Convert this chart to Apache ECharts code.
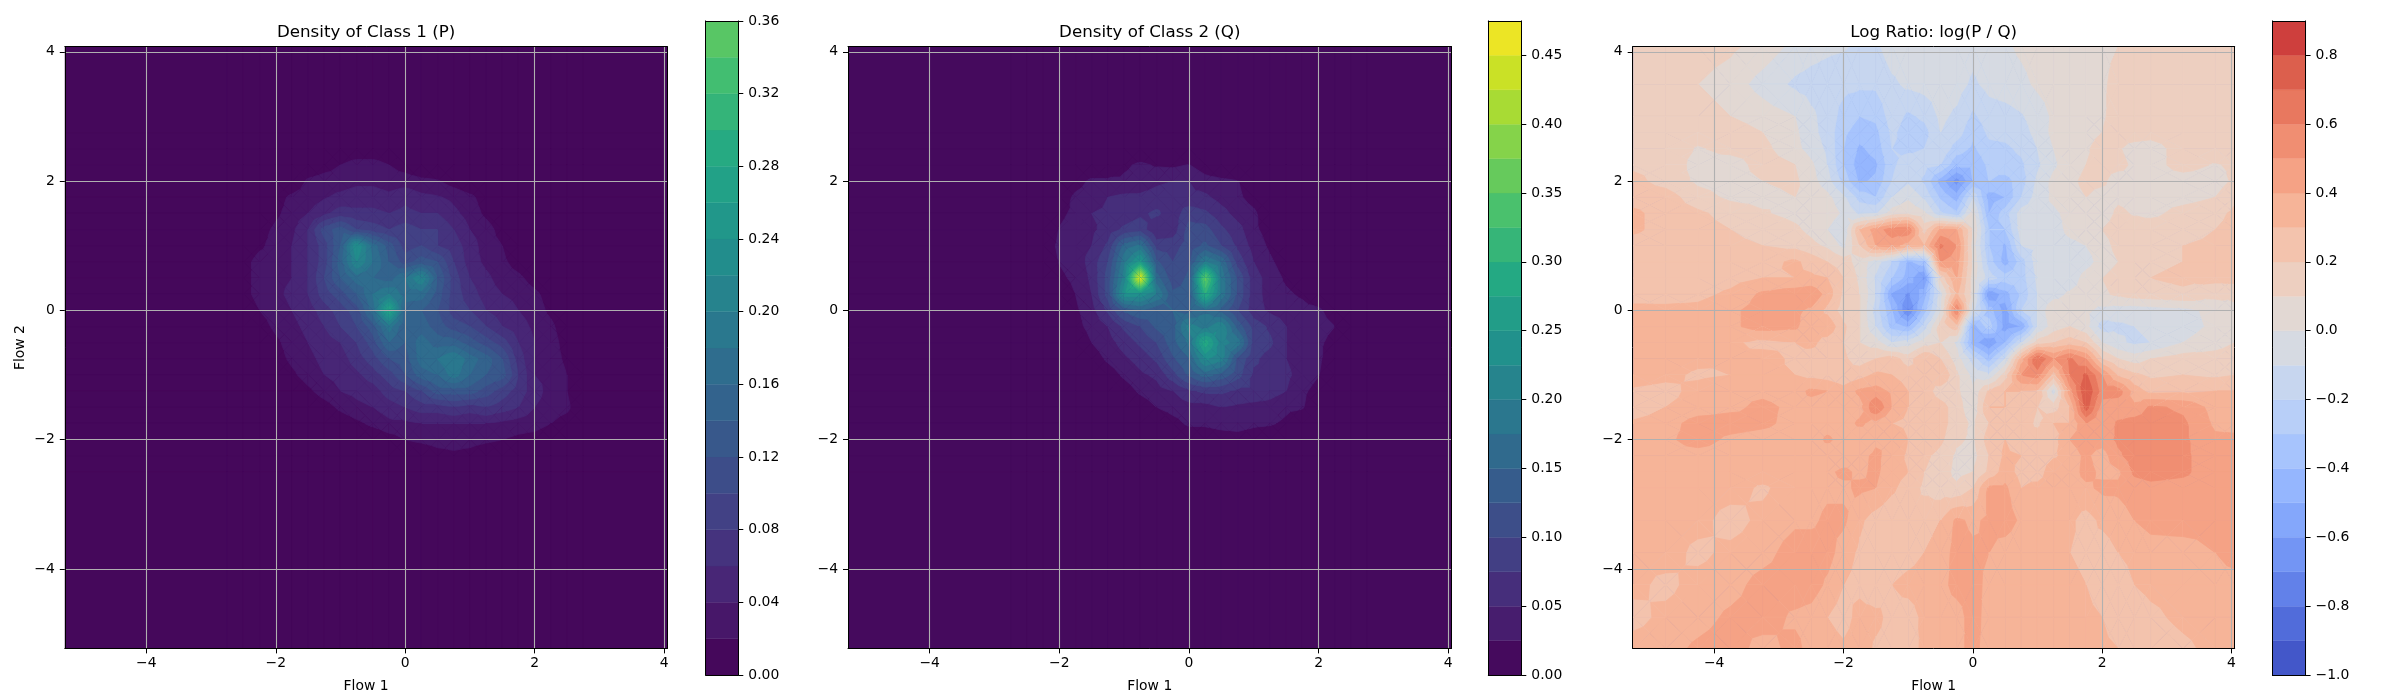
<!DOCTYPE html>
<html><head><meta charset="utf-8">
<style>html,body{margin:0;padding:0;background:#fff}#c{width:2400px;height:700px}</style>
<script src="https://cdn.jsdelivr.net/npm/echarts@6/dist/echarts.min.js"></script>
</head><body><div id="c"></div>
<script>
// ---- tick labels / levels
const axisTicks=[-4,-2,0,2,4];
const levelsP=[0,.02,.04,.06,.08,.10,.12,.14,.16,.18,.20,.22,.24,.26,.28,.30,.32,.34,.36];
const levelsQ=[0,.025,.05,.075,.10,.125,.15,.175,.20,.225,.25,.275,.30,.325,.35,.375,.40,.425,.45,.475];
const levelsR=[-1,-.9,-.8,-.7,-.6,-.5,-.4,-.3,-.2,-.1,0,.1,.2,.3,.4,.5,.6,.7,.8,.9];
const ticksP=[0,.04,.08,.12,.16,.20,.24,.28,.32,.36];
const ticksQ=[0,.05,.10,.15,.20,.25,.30,.35,.40,.45];
const ticksR=[-1,-.8,-.6,-.4,-.2,0,.2,.4,.6,.8];
// ---- density grid nodes (values in hundredths), rows top to bottom
const densX=[-5.25,-2.75,-2.5,-2.25,-2,-1.75,-1.5,-1.25,-1,-.75,-.5,-.25,0,.25,.5,.75,1,1.25,1.5,1.75,2,2.25,2.5,2.75,4.05];
const densY=[4.08,2.75,2.5,2.25,2,1.75,1.5,1.25,1,.75,.5,.25,0,-.25,-.5,-.75,-1,-1.25,-1.5,-1.75,-2,-2.25,-2.5,-5.23];
const densP=[
[0,0,0,0,0,0,0,0,0,0,0,0,0,0,0,0,0,0,0,0,0,0,0],
[0,0,0,0,0,0,0,0,0,0,0,0,0,0,0,0,0,0,0,0,0,0,0],
[0,0,0,0,0,0,1,2,3,3,2,1,0,0,0,0,0,0,0,0,0,0,0],
[0,0,0,0,0,2.4,3,3,3.5,3.5,3,3,2.5,2.2,1,0,0,0,0,0,0,0,0],
[0,0,0,1,2.5,3,3.8,4.5,5,5,4.5,5.5,4.5,4.2,3.5,2.5,1,0,0,0,0,0,0],
[0,0,0,1.5,3,4,5.5,7,6.5,6.5,6,6.5,6,6,4.5,3.2,1.5,0,0,0,0,0,0],
[0,0,1,2.5,3.5,6,11,13,10,9,8,9,8,8,6,4,3,1,0,0,0,0,0],
[0,0,1.5,3,4,6,9,14,24,17,13,9,10,8,7,5,3,2,0,0,0,0,0],
[0,1,3,3,4,6,9,15,22,18,14,11,13,12,8,5,3.5,2.5,1,0,0,0,0],
[0,1,3,3.5,4,6,10,14,17,16,15,18,22,14,9,6,4.5,3,2.5,1,0,0,0],
[0,1,3,3.5,4.5,6,9,11,14,18,20,17,17,13,9,7,5,4,3.5,2.5,1,0,0],
[0,0,2,3,4,5,7,9,11,17,28,15,14,12,9,8,6,5,4,3,1.5,0,0],
[0,0,1,2.5,3.5,4.5,6,8,10,13,19,14,15,13,11,10,8,6,5,3.5,2.5,.5,0],
[0,0,0,1.5,3,4,5,6,8,11,16,14,17,15,15,13,11,9,6,4,3,1,0],
[0,0,0,1,2.5,3.5,4.5,5,7,9,12,13,17,18,20,17,15,12,7,4,3,1.5,0],
[0,0,0,0,1.5,3,4,4.5,5.5,7,9,12,15,16,19,16,14,13,8,4,3.5,2,0],
[0,0,0,0,0,1.5,3,4,4.5,5,7,8,10,13,13,13,11,9,7,5,3,2,0],
[0,0,0,0,0,0,1,2.5,3.5,4,5,6,7,7,8,7,8,7,6,4,3,2.5,0],
[0,0,0,0,0,0,0,.5,1.5,2.5,3.5,3.5,4,4,4,4,4,3.5,3,3,2,1,0],
[0,0,0,0,0,0,0,0,0,0,1,2,2.5,3,3,3,2.5,2,1.5,1,0,0,0],
[0,0,0,0,0,0,0,0,0,0,0,0,0,1,1.5,1,0,0,0,0,0,0,0],
[0,0,0,0,0,0,0,0,0,0,0,0,0,0,0,0,0,0,0,0,0,0,0]];
const densQ=[
[0,0,0,0,0,0,0,0,0,0,0,0,0,0,0,0,0,0,0,0,0,0,0],
[0,0,0,0,0,0,0,0,0,0,0,0,0,0,0,0,0,0,0,0,0,0,0],
[0,0,0,0,0,0,0,2,3,2.2,2,2.6,1,0,0,0,0,0,0,0,0,0,0],
[0,0,0,0,1.5,3,3,3,3.5,4.5,5,5,3.5,3,2.6,1,0,0,0,0,0,0,0],
[0,0,0,1,3,3.5,5,5.5,5.5,6,6.5,5.5,5.5,4,3,1.5,0,0,0,0,0,0,0],
[0,0,0,2,3,5,5.5,6,7,8,6,9,8,6,4,3,.5,0,0,0,0,0,0],
[0,0,0,2.6,3.5,4.5,6,8,9,5,6,11,11,8,6,3,1.5,0,0,0,0,0,0],
[0,0,1,3,4,5,8,16,18,9,9,11,13,10,7,4,2,0,0,0,0,0,0],
[0,0,.5,2.6,3.5,6,10,19,26,13,10,12,20,17,9,5,3,1,0,0,0,0,0],
[0,0,.3,2,3,5.5,11,21,46,16,11,13,36,19,12,6,4,2,1,0,0,0,0],
[0,0,0,1,2.5,5,11,24,24,20,13,13,30,19,12,6,4,3,2,0,0,0,0],
[0,0,0,.5,2,4,8,13,15,13,15,14,17,14,10,6,4.5,4,3.5,3,1,0,0],
[0,0,0,0,1.5,3.5,5,8,10,13,14,21,19,22,14,9,7,5,4,3.5,2.5,0,0],
[0,0,0,0,0,2.5,4,6,8,10,14,18,29,21,19,9,8,5,4,3,1.5,0,0],
[0,0,0,0,0,1,3,4.5,6,8,12,15,23,21,12,8,6.5,5,4,3,.5,0,0],
[0,0,0,0,0,0,1,3,4.5,5.5,9,13,16,14,11,7,7,5.5,4,2.6,0,0,0],
[0,0,0,0,0,0,0,1,3,4,5,7,8,8,7,7,6,5,3,1.5,0,0,0],
[0,0,0,0,0,0,0,0,.8,2.5,3.5,4,4,5,4.5,4,4,3,2.7,.5,0,0,0],
[0,0,0,0,0,0,0,0,0,0,1.5,3,3,3.5,3.5,3,2.8,2,.5,0,0,0,0],
[0,0,0,0,0,0,0,0,0,0,0,0,.5,1,1.5,1,.5,0,0,0,0,0,0],
[0,0,0,0,0,0,0,0,0,0,0,0,0,0,0,0,0,0,0,0,0,0,0],
[0,0,0,0,0,0,0,0,0,0,0,0,0,0,0,0,0,0,0,0,0,0,0]];
// ---- log ratio grid nodes
const ratioX=[-5.25,-4.75,-4.25,-3.75,-3.25,-2.75,-2.5,-2.25,-2,-1.75,-1.5,-1.25,-1,-.75,-.5,-.25,0,.25,.5,.75,1,1.25,1.5,1.75,2,2.25,2.5,2.75,3.25,3.75,4.05];
const ratioY=[4.08,3.5,3,2.75,2.5,2.25,2,1.75,1.5,1.25,1,.75,.5,.25,0,-.25,-.5,-.75,-1,-1.25,-1.5,-1.75,-2,-2.25,-2.5,-2.75,-3.25,-3.75,-4.25,-4.75,-5.23];
const ratioV=[
[.16,.16,.15,.12,.06,-.03,-.06,-.08,-.09,-.12,-.12,-.05,-.04,-.04,-.03,-.04,-.06,-.03,-.02,.02,.05,.06,.07,.08,.09,.1,.12,.15,.16,.16,.16],
[.15,.15,.1,.05,-.04,-.12,-.14,-.15,-.17,-.18,-.18,-.12,-.08,-.06,-.05,-.06,-.12,-.07,-.05,-.03,.02,.05,.06,.08,.09,.12,.14,.15,.16,.16,.16],
[.16,.16,.15,.1,.05,0,-.08,-.14,-.24,-.3,-.28,-.15,-.22,-.18,-.08,-.12,-.22,-.15,-.14,-.11,-.06,.02,.05,.06,.09,.13,.15,.16,.16,.16,.17],
[.16,.15,.14,.16,.1,.02,-.07,-.14,-.28,-.35,-.33,-.18,-.25,-.24,-.1,-.15,-.28,-.18,-.17,-.14,-.07,.03,.06,.08,.1,.14,.15,.14,.16,.17,.17],
[.17,.16,.09,.13,.13,.03,-.04,-.12,-.3,-.42,-.36,-.2,-.22,-.2,-.12,-.25,-.32,-.23,-.22,-.18,-.1,0,.07,.09,.13,.11,.06,.05,.15,.17,.17],
[.18,.17,.06,.05,.14,.1,.02,-.1,-.3,-.46,-.42,-.22,-.15,-.17,-.2,-.38,-.38,-.28,-.24,-.22,-.12,-.02,.06,.1,.12,.13,.08,.06,.14,.09,.12],
[.23,.16,.08,.06,.1,.12,.04,-.06,-.24,-.42,-.38,-.2,-.12,-.22,-.45,-.65,-.4,-.3,-.34,-.25,-.08,.03,.08,.12,.12,.05,.08,.05,.05,.05,.12],
[.26,.25,.14,.08,.07,.1,.08,.03,-.08,-.24,-.3,-.1,-.02,-.12,-.32,-.45,-.12,-.45,-.4,-.2,-.05,.02,.07,.1,.06,.08,.07,.05,.06,.1,.18],
[.32,.26,.22,.16,.11,.07,.05,.06,-.02,-.12,-.1,.05,.08,.02,-.18,-.28,.05,-.4,-.25,-.05,-.03,-.02,.03,.04,.05,.12,.09,.07,.14,.17,.22],
[.32,.26,.24,.2,.17,.12,.07,0,-.1,.3,.45,.55,.58,.15,.42,.4,.1,-.3,-.3,-.05,-.02,-.05,.03,.05,.1,.14,.15,.17,.16,.2,.23],
[.25,.24,.24,.22,.2,.17,.13,.08,-.03,.2,.4,.45,.35,.3,.62,.5,.05,-.3,-.42,-.1,-.08,-.05,-.03,0,.06,.13,.17,.19,.2,.22,.24],
[.22,.22,.24,.25,.26,.32,.26,.2,.15,.05,-.05,-.2,-.42,-.35,.5,.45,.08,-.25,-.45,-.25,-.05,-.08,-.1,-.05,.05,.1,.15,.18,.2,.22,.23],
[.24,.24,.24,.26,.3,.3,.32,.3,.2,.08,-.12,-.3,-.45,-.62,.12,.4,.05,-.15,-.25,-.25,-.08,-.05,-.08,.05,.1,.14,.17,.2,.22,.23,.24],
[.24,.25,.27,.32,.42,.46,.48,.36,.18,.1,-.1,-.52,-.62,-.45,-.05,.32,.05,-.6,-.45,-.28,-.1,-.05,.02,.04,.08,.12,.15,.16,.18,.13,.12],
[.34,.33,.33,.38,.44,.42,.38,.27,.15,.1,-.15,-.4,-.72,-.35,-.02,.6,-.05,-.35,-.55,-.2,-.1,.1,.05,.02,-.03,-.05,-.06,-.05,-.03,.03,.08],
[.35,.35,.35,.38,.44,.42,.33,.38,.22,.1,-.1,-.35,-.42,-.15,.15,.25,-.45,-.25,-.55,-.5,-.1,.05,.1,.03,-.15,-.12,-.1,-.08,-.04,.02,.05],
[.36,.36,.35,.32,.27,.3,.33,.25,.2,.1,.05,-.1,-.05,.05,.1,-.02,-.45,-.6,-.4,-.1,.15,.2,.25,.2,0,-.08,-.12,-.1,0,.05,.1],
[.36,.36,.33,.3,.34,.28,.24,.25,.22,.15,.2,.25,.15,.3,.2,.05,-.15,-.35,-.1,.35,.7,.5,.62,.5,.2,.1,.05,.1,.15,.15,.17],
[.36,.33,.28,.3,.32,.3,.27,.25,.22,.26,.32,.3,.25,.2,.3,.12,-.03,-.08,.15,.5,.55,.25,.6,.72,.5,.28,.22,.18,.2,.18,.2],
[.28,.26,.34,.38,.38,.36,.42,.4,.34,.42,.44,.38,.3,.25,.15,.12,.02,.22,.3,.3,.28,-.05,.45,.8,.55,.55,.35,.27,.28,.3,.3],
[.23,.3,.34,.38,.42,.38,.36,.35,.33,.36,.6,.4,.3,.27,.24,.15,.02,.3,.3,.26,.2,.15,.3,.75,.45,.42,.42,.52,.48,.36,.36],
[.32,.35,.45,.44,.42,.37,.34,.35,.35,.42,.36,.3,.27,.3,.24,.15,.08,.2,.2,.25,.18,.3,.3,.5,.4,.52,.55,.55,.52,.38,.37],
[.34,.38,.44,.38,.36,.35,.34,.42,.36,.3,.38,.4,.3,.28,.22,.12,.08,.25,.3,.22,.25,.26,.4,.45,.45,.52,.55,.55,.52,.42,.42],
[.35,.37,.36,.36,.36,.36,.35,.32,.34,.37,.42,.36,.28,.22,.17,.08,.06,.2,.32,.3,.22,.28,.35,.42,.35,.48,.55,.55,.52,.44,.44],
[.35,.36,.36,.36,.36,.36,.34,.38,.42,.38,.42,.34,.3,.2,.15,.07,.1,.22,.35,.26,.22,.4,.35,.43,.38,.38,.52,.54,.52,.44,.45],
[.35,.36,.36,.35,.28,.36,.36,.38,.38,.42,.4,.32,.25,.18,.14,.12,.2,.42,.42,.3,.35,.37,.36,.38,.42,.42,.45,.47,.46,.44,.44],
[.35,.35,.34,.25,.33,.38,.38,.42,.42,.32,.25,.22,.22,.26,.3,.42,.38,.42,.45,.38,.36,.35,.32,.26,.32,.35,.4,.43,.44,.43,.45],
[.33,.35,.27,.33,.36,.45,.45,.44,.35,.28,.22,.22,.25,.3,.34,.44,.42,.4,.35,.33,.33,.32,.3,.28,.25,.3,.33,.36,.36,.4,.44],
[.33,.27,.34,.36,.44,.46,.45,.38,.3,.27,.22,.3,.34,.36,.37,.43,.44,.37,.35,.34,.33,.33,.32,.3,.26,.24,.3,.33,.35,.36,.36],
[.26,.33,.36,.42,.45,.38,.36,.3,.25,.34,.33,.26,.24,.33,.36,.36,.44,.36,.35,.35,.34,.34,.33,.32,.3,.25,.23,.27,.33,.36,.36],
[.35,.36,.42,.45,.36,.43,.36,.36,.32,.36,.28,.26,.26,.32,.36,.38,.42,.37,.35,.35,.34,.34,.34,.33,.32,.3,.26,.22,.27,.34,.35]];
// ---- colormap anchors
const viridisStops=['#440154','#482475','#414487','#355f8d','#2a788e','#21918c','#22a884','#44bf70','#7ad151','#bddf26','#fde725'];
const coolwarmStops=['#3b4cc0','#5977e3','#7b9ff9','#9ebeff','#c0d4f5','#dddcdc','#f2cbb7','#f7ac8e','#ee8468','#d65244','#b40426'];

function cmap(stops,t){
  t=Math.max(0,Math.min(1,t));const p=t*(stops.length-1),i=Math.min(stops.length-2,Math.floor(p)),f=p-i;
  const h=s=>[1,3,5].map(k=>parseInt(s.substr(k,2),16));const a=h(stops[i]),b=h(stops[i+1]);
  return 'rgb('+a.map((v,k)=>Math.round(v+(b[k]-v)*f)).join(',')+')';
}
function clipAt(poly,lv){ // keep the part of a triangle at or above the level
  const out=[];
  for(let i=0;i<poly.length;i++){
    const a=poly[i],b=poly[(i+1)%poly.length];
    const ia=a[2]>=lv, ib=b[2]>=lv;
    if(ia)out.push(a);
    if(ia!==ib){const f=(lv-a[2])/(b[2]-a[2]);out.push([a[0]+(b[0]-a[0])*f,a[1]+(b[1]-a[1])*f,lv]);}
  }
  return out;
}
function pad(rows,nx,ny){ // density grids are zero outside the listed block
  const z=()=>new Array(nx).fill(0);const r=[z()];
  rows.forEach(x=>r.push([0].concat(x,[0])));r.push(z());return r;
}
function contourSeries(gi,X,Y,Z,levels,colors){
  const nx=X.length,ny=Y.length;
  Z.forEach((r,k)=>{if(r.length!==nx)throw new Error('row '+k+' len '+r.length+' != '+nx)});
  if(Z.length!==ny)throw new Error('rows '+Z.length+' != '+ny);
  const data=[];
  for(let j=0;j<ny;j++)for(let i=0;i<nx;i++)data.push([X[i],Y[j],Z[j][i]]);
  const nb=colors.length;
  const bandOf=v=>{let b=0;while(b<nb-1&&v>=levels[b+1])b++;return b;};
  return {type:'custom',xAxisIndex:gi*2,yAxisIndex:gi*2,coordinateSystem:'cartesian2d',data,silent:true,animation:false,progressive:0,z:2,
    encode:{x:0,y:1},clip:true,
    renderItem(params,api){
      const idx=params.dataIndex,i=idx%nx,j=Math.floor(idx/nx);
      if(i===nx-1||j===ny-1)return null;
      const pts=[[i,j],[i+1,j],[i+1,j+1],[i,j+1]].map(([a,b])=>{const c=api.coord([X[a],Y[b]]);return [c[0],c[1],Z[b][a]];});
      const bs=pts.map(p=>bandOf(p[2]));const children=[];
      const add=(poly,col)=>children.push({type:'polygon',shape:{points:poly.map(p=>[p[0],p[1]])},style:{fill:col,stroke:col,lineWidth:.8}});
      if(bs.every(b=>b===bs[0])){add(pts,colors[bs[0]]);}
      else{
        const c=[(pts[0][0]+pts[2][0])/2,(pts[0][1]+pts[2][1])/2,(pts[0][2]+pts[1][2]+pts[2][2]+pts[3][2])/4];
        for(let t=0;t<4;t++){
          const tri=[pts[t],pts[(t+1)%4],c];
          const vs=tri.map(p=>p[2]);const lo=bandOf(Math.min(...vs)),hi=bandOf(Math.max(...vs));
          for(let b=lo;b<=hi;b++){
            const poly=b>lo?clipAt(tri,levels[b]):tri;
            if(poly.length>2)add(poly,colors[b]);
          }
        }
      }
      return {type:'group',children};
    }};
}
function bandSeries(gi,levels,colors){
  const data=colors.map((c,k)=>[levels[k],levels[k+1]]);
  return {type:'custom',xAxisIndex:gi*2,yAxisIndex:gi*2,coordinateSystem:'cartesian2d',data,silent:true,animation:false,z:2,clip:true,
    encode:{y:[0,1]},
    renderItem(params,api){
      const a=api.coord([0,api.value(0)]),b=api.coord([1,api.value(1)]);
      const c=colors[params.dataIndex];
      return {type:'rect',shape:{x:a[0],y:b[1],width:b[0]-a[0],height:a[1]-b[1]},style:{fill:c,stroke:c,lineWidth:.4}};
    }};
}
const FONT='"DejaVu Sans"';
const txt={color:'#000',fontFamily:FONT,fontSize:13.9};
const minus=v=>String(v).replace('-','\u2212');
const axisLine={show:true,onZero:false,lineStyle:{color:'#000',width:1}};
const grids=[],xAxes=[],yAxes=[],series=[];
function frame(gi,xa,ya,title){ // primary + frame axes
  const blank={show:true,axisLine,axisTick:{show:false},axisLabel:{show:false},splitLine:{show:false},z:6,silent:true};
  const top=Object.assign({gridIndex:gi,type:'value',position:'top',min:xa.min,max:xa.max},blank);
  if(title){top.name=title;top.nameLocation='middle';top.nameGap=6;top.nameTextStyle={color:'#000',fontFamily:FONT,fontSize:16.7,fontWeight:'normal'};}
  xAxes.push(Object.assign({gridIndex:gi,position:'bottom',z:6},xa),top);
  yAxes.push(Object.assign({gridIndex:gi,position:'left',z:6},ya),Object.assign({gridIndex:gi,type:'value',position:'right',min:ya.min,max:ya.max},blank));
}
function panel(left,w,title,yName,X,Y,Z,levels,colors){
  const gi=grids.length;
  grids.push({left,top:46.7,width:w,height:601.7,show:true,backgroundColor:colors[0],borderWidth:0});
  const gl={show:true,customValues:axisTicks,lineStyle:{color:'#b0b0b0',width:1.1}};
  const tick={show:true,length:5,customValues:axisTicks,lineStyle:{color:'#000',width:1}};
  const labX=Object.assign({show:true,margin:8,customValues:axisTicks,formatter:minus},txt);
  const labY=Object.assign({show:true,margin:10,customValues:axisTicks,formatter:minus},txt);
  const x={type:'value',min:-5.26,max:4.05,axisLine,axisTick:tick,axisLabel:labX,splitLine:gl,name:'Flow 1',nameLocation:'middle',nameGap:31,nameTextStyle:txt};
  const y={type:'value',min:-5.23,max:4.08,axisLine,axisTick:tick,axisLabel:labY,splitLine:gl};
  if(yName){y.name=yName;y.nameLocation='middle';y.nameGap=37;y.nameTextStyle=txt;}
  frame(gi,x,y,title);
  series.push(contourSeries(gi,X,Y,Z,levels,colors));
}
function colorbar(left,w,levels,colors,ticks,fmt){
  const gi=grids.length;
  grids.push({left,top:20.9,width:w,height:654.1});
  const tv=ticks;
  frame(gi,
    {type:'value',min:0,max:1,axisLine,axisTick:{show:false},axisLabel:{show:false},splitLine:{show:false}},
    {type:'value',position:'right',min:levels[0],max:levels[levels.length-1],axisLine,splitLine:{show:false},
     axisTick:{show:true,length:5,customValues:tv,lineStyle:{color:'#000',width:1}},
     axisLabel:Object.assign({show:true,margin:10,customValues:tv,formatter:v=>minus(Number(v).toFixed(fmt))},txt)});
  yAxes[yAxes.length-1].position='left';
  series.push(bandSeries(gi,levels,colors));
}
const mids=l=>l.slice(0,-1).map((v,k)=>(v+l[k+1])/2);
const normD=.475;
const colP=mids(levelsP).map(m=>cmap(viridisStops,m/normD));
const colQ=mids(levelsQ).map(m=>cmap(viridisStops,m/normD));
const colR=mids(levelsR).map(m=>cmap(coolwarmStops,(m+1)/2));
const toUnit=rows=>rows.map(r=>r.map(v=>v/100));
const nD=densX.length,mD=densY.length;
panel(64.8,602.5,'Density of Class 1 (P)','Flow 2',densX,densY,toUnit(pad(densP,nD,mD)),levelsP,colP);
colorbar(705.6,32.7,levelsP,colP,ticksP,2);
panel(848,603.5,'Density of Class 2 (Q)',null,densX,densY,toUnit(pad(densQ,nD,mD)),levelsQ,colQ);
colorbar(1488.3,33,levelsQ,colQ,ticksQ,2);
panel(1632.7,602,'Log Ratio: log(P / Q)',null,ratioX,ratioY,ratioV,levelsR,colR);
colorbar(2272.4,33.2,levelsR,colR,ticksR,1);
const chart=echarts.init(document.getElementById('c'),null,{renderer:'canvas',width:2400,height:700});
chart.setOption({animation:false,backgroundColor:'#fff',grid:grids,xAxis:xAxes,yAxis:yAxes,series});
</script></body></html>
